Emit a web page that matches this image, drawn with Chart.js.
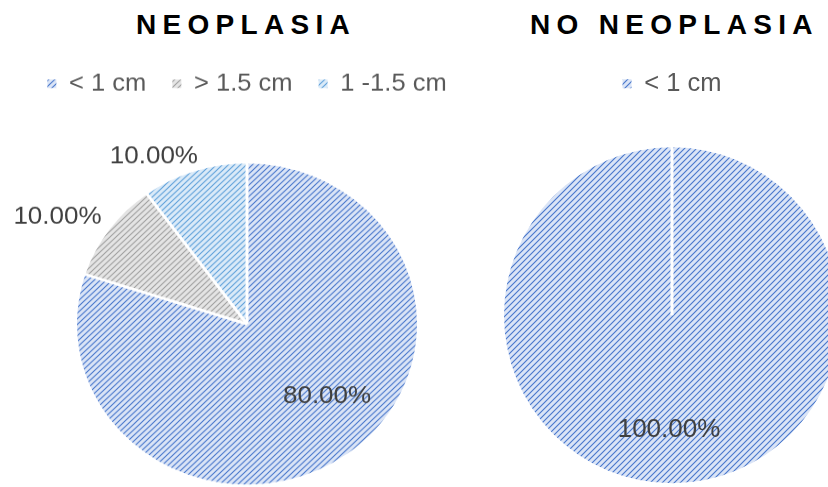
<!DOCTYPE html>
<html>
<head>
<meta charset="utf-8">
<script src="https://cdn.jsdelivr.net/npm/chart.js@4.4.1/dist/chart.umd.min.js"></script>
<style>
  html, body { margin: 0; padding: 0; background: #fff; }
  body { width: 828px; height: 487px; overflow: hidden; position: relative;
         font-family: "Liberation Sans", Arial, sans-serif; }
  .title { position: absolute; top: 11px; font-weight: bold; font-size: 28px; line-height: 28px;
           letter-spacing: 6.3px; color: #000; white-space: nowrap; }
  #leftWrap { position: absolute; left: 0; top: 0; width: 494px; height: 575px;
              transform: scaleY(0.944); transform-origin: 0 0; }
  #rightWrap { position: absolute; left: 424px; top: 0; width: 496px; height: 524px; }
  canvas { display: block; }
</style>
</head>
<body>
<div class="title" style="left:136px">NEOPLASIA</div>
<div class="title" style="left:530px">NO NEOPLASIA</div>
<div id="leftWrap"><canvas id="neoChart" width="494" height="575"></canvas></div>
<div id="rightWrap"><canvas id="noNeoChart" width="496" height="524"></canvas></div>
<script>
// Lesion size distribution (percent of cases)
const neoCategories = ['< 1 cm', '> 1.5 cm', '1 -1.5 cm'];
const neoValues = [80, 10, 10];
const noNeoCategories = ['< 1 cm'];
const noNeoValues = [100];

const FONT = '"Liberation Sans", Arial, sans-serif';

// Diagonal hatch fill: thin "/" stripes on a pale ground
function hatch(ctx, line, back) {
  const size = 6;
  const tile = document.createElement('canvas');
  tile.width = size; tile.height = size;
  const g = tile.getContext('2d');
  const img = g.createImageData(size, size);
  for (let y = 0; y < size; y++) {
    for (let x = 0; x < size; x++) {
      const d = (x + y) % size;
      const w = d === 0 ? 0.95 : (d === 1 || d === size - 1) ? 0.3 : 0;
      const k = (y * size + x) * 4;
      for (let c = 0; c < 3; c++) img.data[k + c] = Math.round(back[c] * (1 - w) + line[c] * w);
      img.data[k + 3] = 255;
    }
  }
  g.putImageData(img, 0, 0);
  return ctx.createPattern(tile, 'repeat');
}

// White radial edges between slices, then percentage labels
const sliceDecor = {
  id: 'sliceDecor',
  afterDatasetsDraw(chart, args, opts) {
    const ctx = chart.ctx;
    const meta = chart.getDatasetMeta(0);
    const values = chart.data.datasets[0].data;
    const total = values.reduce((a, b) => a + b, 0);
    ctx.save();
    ctx.strokeStyle = '#ffffff';
    ctx.lineWidth = 3;
    ctx.lineCap = 'butt';
    meta.data.forEach(arc => {
      const p = arc.getProps(['x', 'y', 'startAngle', 'outerRadius'], true);
      ctx.beginPath();
      ctx.moveTo(p.x, p.y);
      ctx.lineTo(p.x + Math.cos(p.startAngle) * (p.outerRadius + 1),
                 p.y + Math.sin(p.startAngle) * (p.outerRadius + 1));
      ctx.stroke();
    });
    ctx.font = `${opts.size}px ${FONT}`;
    ctx.fillStyle = opts.color;
    ctx.textAlign = 'center';
    ctx.textBaseline = 'middle';
    meta.data.forEach((arc, i) => {
      const p = arc.getProps(['x', 'y', 'outerRadius'], true);
      const [deg, rf] = opts.placement[i];
      const a = (deg - 90) * Math.PI / 180;
      const txt = (values[i] / total * 100).toFixed(2) + '%';
      ctx.fillText(txt, p.x + Math.cos(a) * rf * p.outerRadius,
                        p.y + Math.sin(a) * rf * p.outerRadius + 1);
    });
    ctx.restore();
  }
};

function pieConfig(ctx, labels, values, fills, radius, padTop, placement) {
  return {
    type: 'pie',
    data: {
      labels: labels,
      datasets: [{
        data: values,
        backgroundColor: fills,
        borderWidth: 0,
        hoverOffset: 0,
        offset: 0
      }]
    },
    options: {
      responsive: false,
      devicePixelRatio: 1,
      animation: false,
      radius: radius,
      rotation: 0,
      layout: { padding: { top: padTop, left: 0, right: 0, bottom: 0 } },
      events: [],
      plugins: {
        tooltip: { enabled: false },
        title: { display: false },
        legend: {
          display: true,
          position: 'top',
          align: 'center',
          labels: {
            boxWidth: 9,
            boxHeight: 9,
            padding: 26,
            color: '#595959',
            font: { family: FONT, size: 25.5 }
          }
        },
        sliceDecor: { size: 26, color: '#404040', placement: placement }
      }
    },
    plugins: [sliceDecor]
  };
}

const BLUE = [[72, 118, 204], [218, 228, 246]];
const GRAY = [[160, 160, 160], [228, 228, 228]];
const LIGHT = [[95, 160, 218], [218, 234, 248]];

const c1 = document.getElementById('neoChart').getContext('2d');
new Chart(c1, pieConfig(
  c1, neoCategories, neoValues,
  [hatch(c1, ...BLUE), hatch(c1, ...GRAY), hatch(c1, ...LIGHT)],
  170, 50,
  [[133.2, 0.646], [301.1, 1.302], [332.5, 1.186]]
));

const c2 = document.getElementById('noNeoChart').getContext('2d');
new Chart(c2, pieConfig(
  c2, noNeoCategories, noNeoValues,
  [hatch(c2, ...BLUE)],
  168, 45,
  [[181.5, 0.679]]
));
</script>
</body>
</html>
